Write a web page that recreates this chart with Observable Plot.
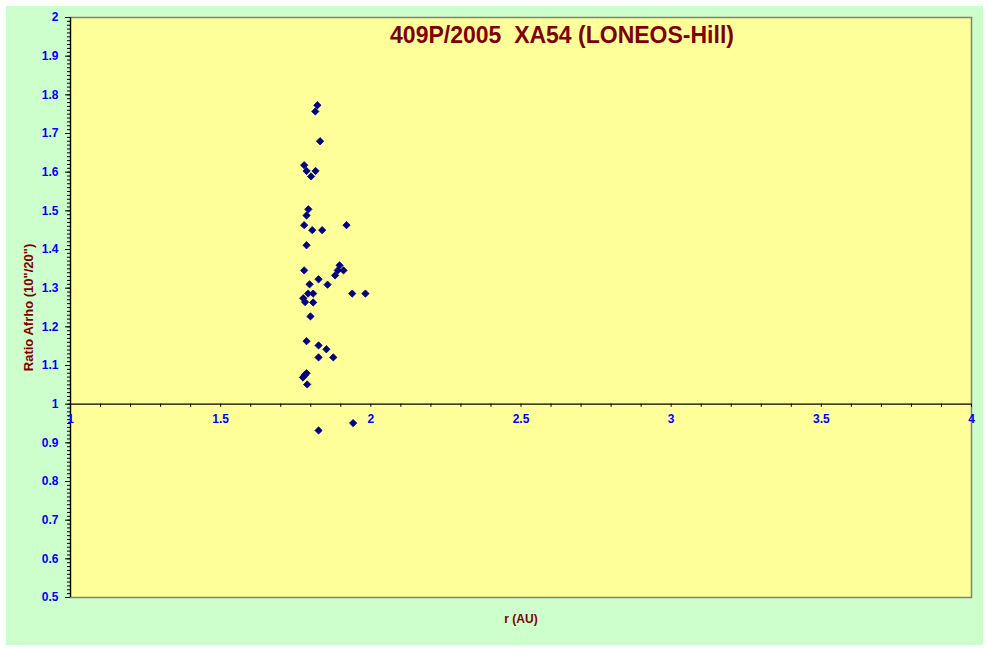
<!DOCTYPE html>
<html>
<head>
<meta charset="utf-8">
<script src="https://cdn.jsdelivr.net/npm/d3@7"></script>
<script src="https://cdn.jsdelivr.net/npm/@observablehq/plot@0.6"></script>
<style>
  html, body { margin: 0; padding: 0; background: #ffffff; }
  #wrap { position: relative; width: 987px; height: 648px; overflow: hidden; }
  #bg { position: absolute; left: 6px; top: 6px; width: 977px; height: 639px; background: #CCFFCC; }
  #chart { position: absolute; left: 0; top: 0; }
</style>
</head>
<body>
<div id="wrap"><div id="bg"></div><div id="chart"></div></div>
<script>
const rValues = [1.822,1.815,1.831,1.778,1.786,1.816,1.801,1.792,1.786,1.778,1.805,1.838,1.919,1.786,1.896,1.890,1.909,1.778,1.881,1.826,1.856,1.796,1.791,1.808,1.938,1.982,1.775,1.781,1.808,1.799,1.786,1.826,1.852,1.826,1.875,1.786,1.780,1.774,1.788,1.941,1.826];
const ratioValues = [1.773,1.757,1.680,1.618,1.603,1.603,1.589,1.504,1.488,1.463,1.450,1.450,1.463,1.411,1.359,1.346,1.346,1.346,1.333,1.323,1.309,1.310,1.286,1.286,1.286,1.286,1.274,1.264,1.263,1.227,1.163,1.152,1.142,1.121,1.121,1.080,1.075,1.069,1.051,0.951,0.932];
const xMajorTicks = [1, 1.5, 2, 2.5, 3, 3.5, 4];
const xMinorTicks = d3.range(10, 41).map(i => i / 10);
const yMajorTicks = d3.range(5, 21).map(i => i / 10);
const yMinorTicks = d3.range(50, 201).map(i => i / 100);
const titleText = "409P/2005  XA54 (LONEOS-Hill)";
const xLabel = "r (AU)";
const yLabel = "Ratio Afrho (10\"/20\")";

const points = rValues.map((r, i) => ({r, ratio: ratioValues[i]}));
const font = "'Liberation Sans', Arial, sans-serif";
const blue = "#0000FF";
const darkRed = "#800000";

const chart = Plot.plot({
  width: 987,
  height: 648,
  marginLeft: 70,
  marginRight: 16,
  marginTop: 17,
  marginBottom: 51,
  style: {background: "transparent", fontFamily: font},
  x: {domain: [1, 4], axis: null},
  y: {domain: [0.5, 2], axis: null},
  marks: [
    Plot.frame({fill: "#FFFF99", stroke: "#808080", strokeWidth: 1.5}),
    // y minor ticks
    Plot.ruleY(yMinorTicks, {y: d => d, x1: 1, x2: 0.99, stroke: "black", strokeWidth: 1}),
    Plot.axisY({ticks: yMajorTicks, tickSize: 5, tickPadding: 7, stroke: "black", color: blue,
      fontWeight: "bold", fontSize: 12, label: null, tickFormat: d => d3.format("")(+d.toFixed(1))}),
    Plot.ruleX([1], {stroke: "black", strokeWidth: 1.2}),
    // x axis at y = 1
    Plot.ruleY([1], {stroke: "black", strokeWidth: 1.2}),
    Plot.ruleX(xMinorTicks, {x: d => d, y1: 1, y2: 0.992, stroke: "black"}),
    Plot.text(xMajorTicks, {x: d => d, y: 1, dy: 15, text: d => String(d), fill: blue,
      fontWeight: "bold", fontSize: 12}),
    Plot.dot(points, {x: "r", y: "ratio", symbol: "diamond2", r: 3.3, fill: "#000080", stroke: "#000080", strokeWidth: 0.8}),
    Plot.text([titleText], {frameAnchor: "top", dx: 41, dy: 9, fill: darkRed, fontWeight: "bold", fontSize: 23}),
    Plot.text([xLabel], {frameAnchor: "bottom", dy: 25, fill: darkRed, fontWeight: "bold", fontSize: 12}),
    Plot.text([yLabel], {frameAnchor: "left", dx: -42, rotate: -90, textAnchor: "middle", fill: darkRed, fontWeight: "bold", fontSize: 13})
  ]
});
document.getElementById("chart").appendChild(chart);
</script>
</body>
</html>
